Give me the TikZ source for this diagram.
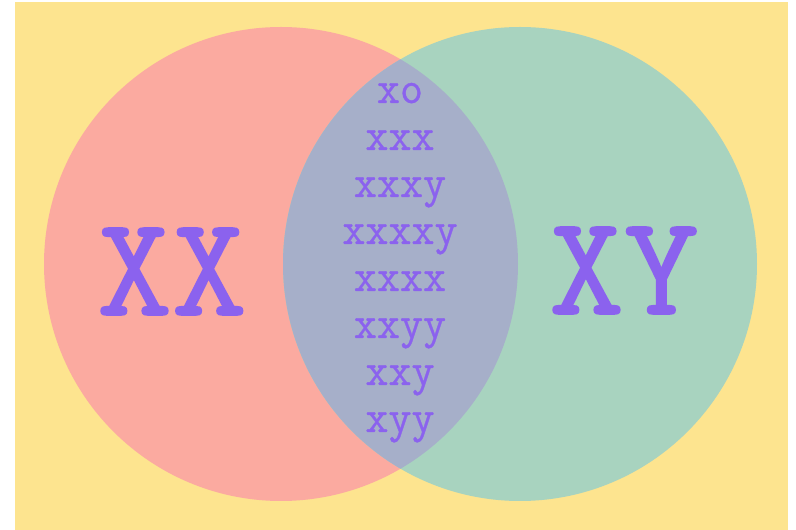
\documentclass[tikz,border=0pt]{standalone}
\usepackage{fontspec}
\newfontfamily\bigtt{Latin Modern Mono}[FakeBold=1.2]
\newfontfamily\smalltt{Latin Modern Mono}[FakeBold=0.7]
\definecolor{bgyellow}{HTML}{FDE48F}
\definecolor{xxpink}{HTML}{FBAAA0}
\definecolor{xygreen}{HTML}{A8D3BF}
\definecolor{lensblue}{HTML}{A6AFC9}
\definecolor{labelpurple}{HTML}{8B62EE}
\begin{document}
\begin{tikzpicture}[
    x=0.02cm, y=-0.02cm,
    biglabel/.style={font=\bigtt\fontsize{81}{81}\selectfont, text=labelpurple, xscale=1.02, inner sep=0pt, anchor=base},
    gene/.style={font=\smalltt\fontsize{26}{26}\selectfont, text=labelpurple, xscale=0.98, inner sep=0pt, anchor=base}
]
    \useasboundingbox (0,0) rectangle (796,530);
    \fill [bgyellow] (15,2) rectangle (788,530);

    % the two sets
    \coordinate (cxx) at (281,264);
    \coordinate (cxy) at (520,264);
    \fill [xxpink] (cxx) circle (237);
    \fill [xygreen] (cxy) circle (237);
    \begin{scope}
        \clip (cxx) circle (237);
        \fill [lensblue] (cxy) circle (237);
    \end{scope}

    \node [biglabel] (xx) at (172,315) {XX};
    \node [biglabel] (xy) at (624,314) {XY};

    % karyotypes in the overlap
    \foreach \w [count=\i] in {xo,xxx,xxxy,xxxxy,xxxx,xxyy,xxy,xyy}
        \node [gene] (g\i) at (400,{103+47*(\i-1)}) {\w};
\end{tikzpicture}
\end{document}
